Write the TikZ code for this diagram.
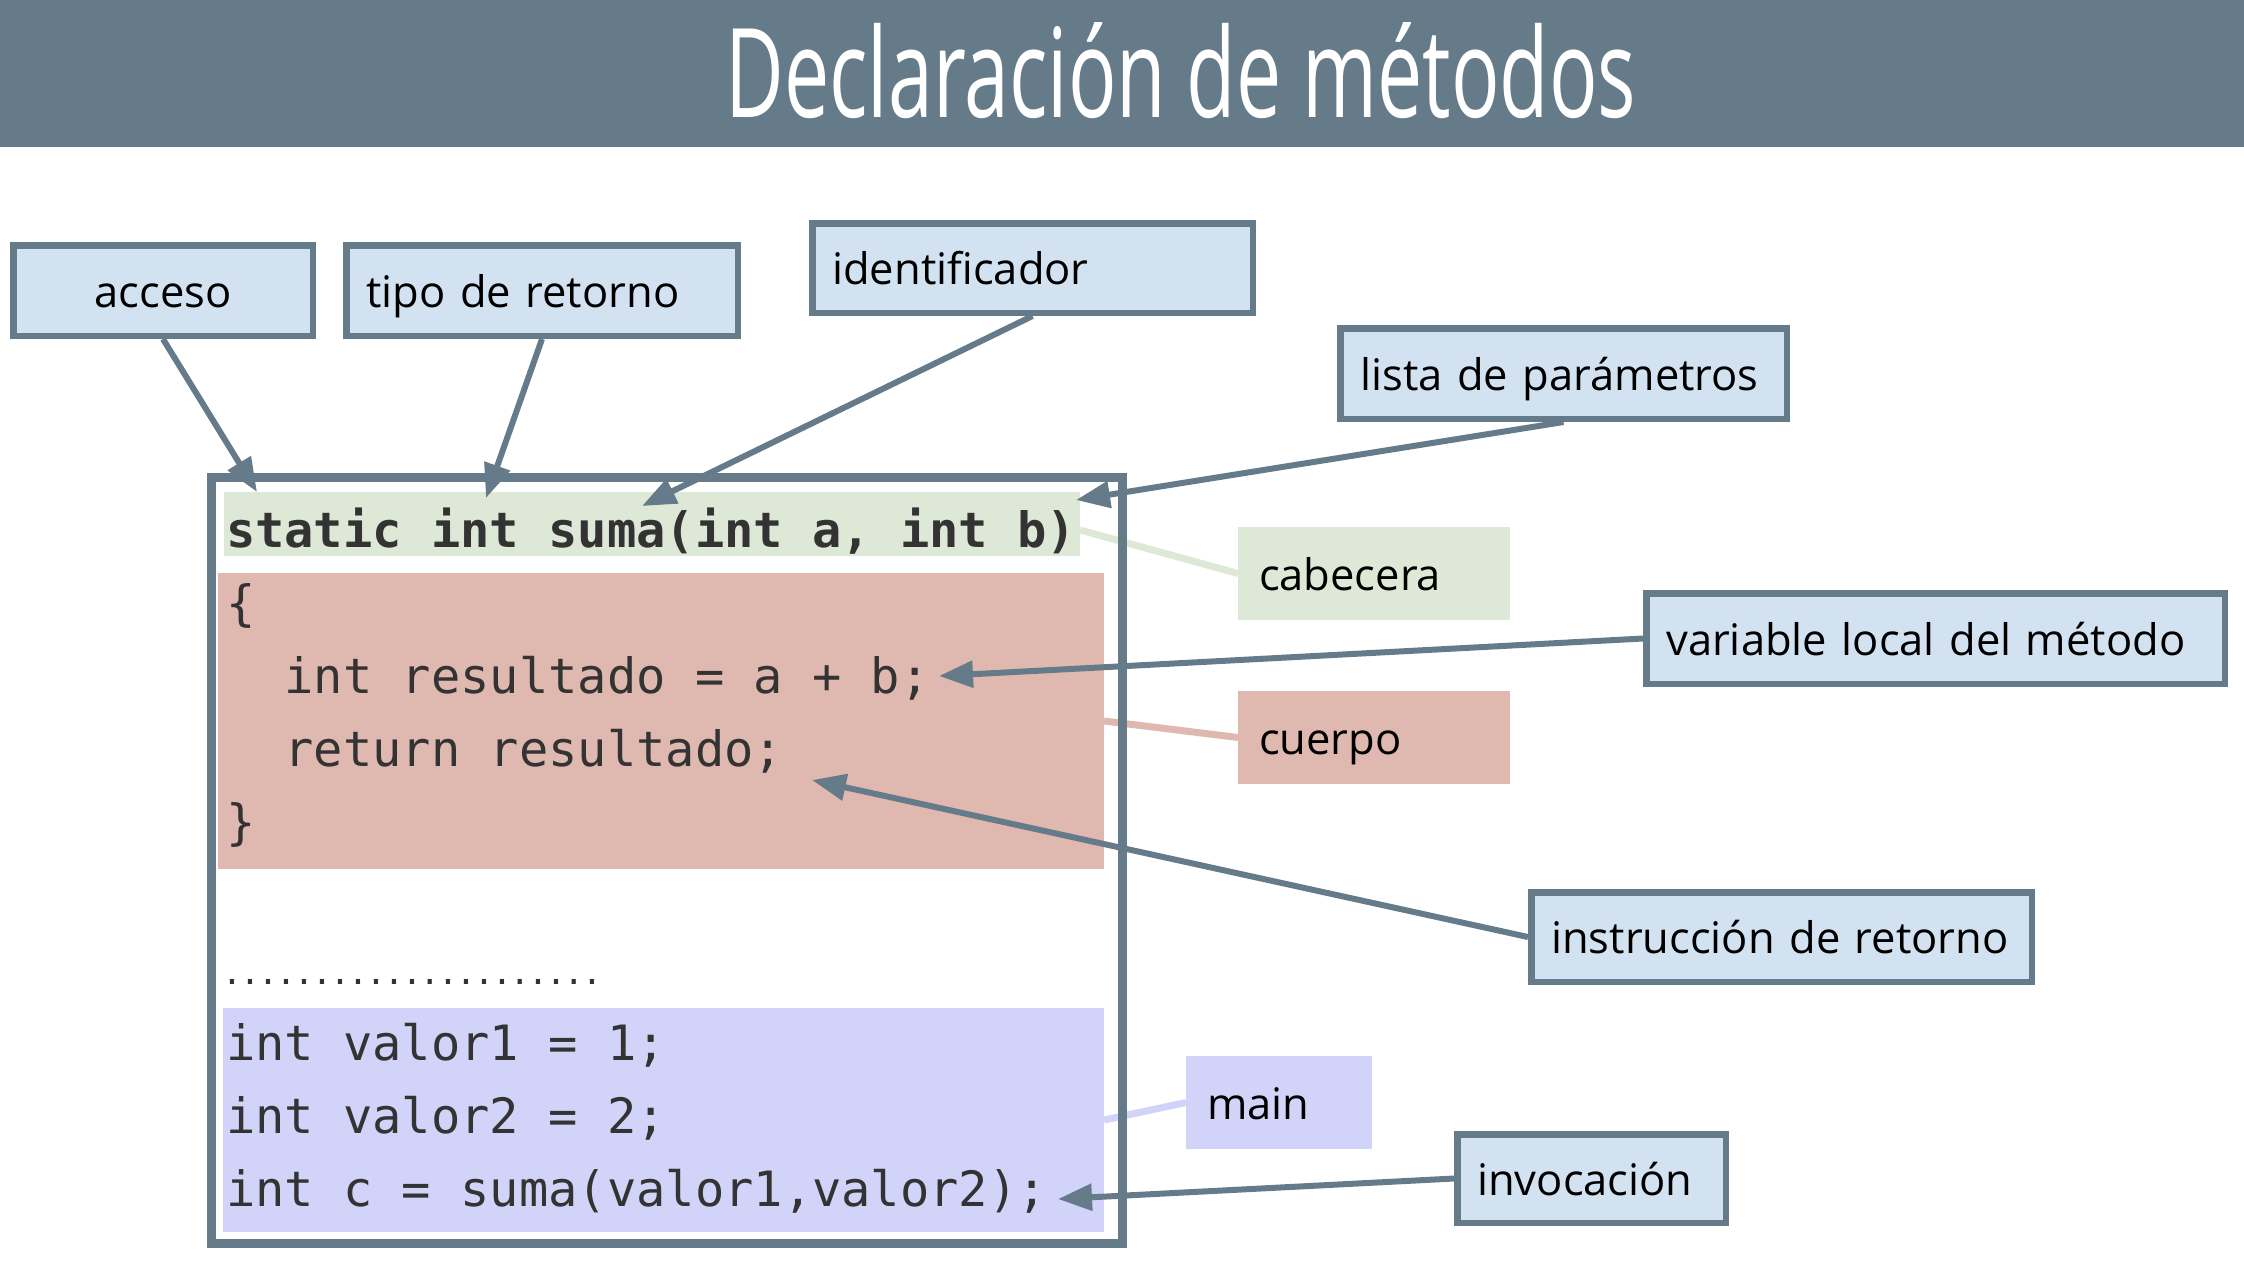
\documentclass[tikz,border=0pt]{standalone}
\usepackage{fontspec}
\setmainfont{Open Sans}
\newfontfamily\titlefont[FakeStretch=0.65]{Open Sans}
\newfontfamily\codefont{DejaVu Sans Mono}
\usetikzlibrary{arrows.meta}
\definecolor{slate}{HTML}{667B8A}
\definecolor{boxblue}{HTML}{D3E2F1}
\definecolor{hdrgreen}{HTML}{DDE9D6}
\definecolor{bodypink}{HTML}{DFB8AF}
\definecolor{mainlav}{HTML}{D1D3F9}
\definecolor{codegray}{HTML}{333333}
\tikzset{
  lbl/.style={draw=slate, line width=6.5pt, fill=boxblue, inner xsep=20pt, inner ysep=0pt,
    anchor=north west, font=\fontsize{43.5}{43.5}\selectfont, text height=44pt, text depth=11pt, align=left},
  tag/.style={inner xsep=21pt, inner ysep=0pt, outer sep=0pt, anchor=north west,
    font=\fontsize{43.5}{43.5}\selectfont, text height=44pt, text depth=11pt, align=left},
  blk/.style={inner sep=0pt, outer sep=0pt, anchor=north west},
  code/.style={anchor=base west, inner sep=0pt, outer sep=0pt, text=codegray,
    font=\codefont\fontsize{48.7}{48.7}\selectfont},
  arr/.style={draw=slate, line width=6pt, -{Triangle[length=34pt,width=26pt]}},
  lnk/.style={line width=7pt}
}
\begin{document}
\begin{tikzpicture}[x=1pt,y=-1pt]
\useasboundingbox (0,0) rectangle (2244,1272);
% title bar
\node[blk, fill=slate, minimum width=2244pt, minimum height=147pt] (bar) at (0,0) {};
\node[anchor=base, inner sep=0pt, text=white, font=\titlefont\fontsize{124}{124}\selectfont] (title) at (1181,117) {Declaración de métodos};

% highlight blocks
\node[blk, fill=hdrgreen, minimum width=856pt, minimum height=64pt] (hdr) at (224,492) {};
\node[blk, fill=bodypink, minimum width=886pt, minimum height=296pt] (body) at (218,573) {};
\node[blk, fill=mainlav, minimum width=881pt, minimum height=224pt] (mainblk) at (223,1008) {};

% colour tags
\node[tag, fill=hdrgreen, text width=230pt, minimum height=93pt] (cab) at (1238,527) {\mbox{cabecera}};
\node[tag, fill=bodypink, text width=230pt, minimum height=93pt] (cue) at (1238,691) {\mbox{cuerpo}};
\node[tag, fill=mainlav, text width=144pt, minimum height=93pt] (mainlbl) at (1186,1056) {\mbox{main}};

% light link lines
\coordinate (sC) at (1080,530);
\coordinate (sB) at (1104,721);
\coordinate (sM) at (1104,1120);
\draw[lnk, hdrgreen] (sC) -- (cab.west);
\draw[lnk, bodypink] (sB) -- (cue.west);
\draw[lnk, mainlav] (sM) -- (mainlbl.west);

% code box
\node[blk, draw=slate, line width=9pt, minimum width=911.5pt, minimum height=765.5pt] (codebox) at (211,477.5) {};

% code
\node[code] (l1) at (226,547) {\bfseries static int suma(int a, int b)};
\node[code] (l2) at (226,620) {\{};
\node[code] (l3) at (284.6,693) {int resultado = a + b;};
\node[code] (l4) at (284.6,766) {return resultado;};
\node[code] (l5) at (226,839) {\}};
\node[code, font=\codefont\fontsize{34}{34}\selectfont] (dots) at (223,984) {\foreach \i in {1,...,21}{\makebox[18pt]{.}}};
\node[code] (m1) at (226,1060) {int valor1 = 1;};
\node[code] (m2) at (226,1133) {int valor2 = 2;};
\node[code] (m3) at (226,1206) {int c = suma(valor1,valor2);};

% label boxes
\node[lbl, text width=259.5pt, minimum height=90.5pt, align=center] (acc) at (10,242) {\mbox{acceso}};
\node[lbl, text width=351.5pt, minimum height=90.5pt] (tipo) at (343,242) {\mbox{tipo de retorno}};
\node[lbl, text width=400.5pt, minimum height=89.5pt] (ident) at (809,220) {\mbox{identificador}};
\node[lbl, text width=406.5pt, minimum height=90.5pt] (lista) at (1337,325) {\mbox{lista de parámetros}};
\node[lbl, text width=538.5pt, minimum height=90.5pt] (var) at (1643,590) {\mbox{variable local del método}};
\node[lbl, text width=460.5pt, minimum height=89.5pt] (instr) at (1528,889) {\mbox{instrucción de retorno}};
\node[lbl, text width=228.5pt, minimum height=88.5pt] (invoc) at (1454,1131) {\mbox{invocación}};

% arrow targets
\coordinate (tA) at (257,492);
\coordinate (tB) at (486,498);
\coordinate (tC) at (642,506);
\coordinate (tD) at (1076,500);
\coordinate (tE) at (939,676);
\coordinate (tF) at (812,780);
\coordinate (tG) at (1058,1199);

\draw[arr] (acc.south) -- (tA);
\draw[arr] (tipo.south) -- (tB);
\draw[arr] (ident.south) -- (tC);
\draw[arr] (lista.south) -- (tD);
\draw[arr] (var.west) -- (tE);
\draw[arr] (instr.west) -- (tF);
\draw[arr] (invoc.west) -- (tG);
\end{tikzpicture}
\end{document}
